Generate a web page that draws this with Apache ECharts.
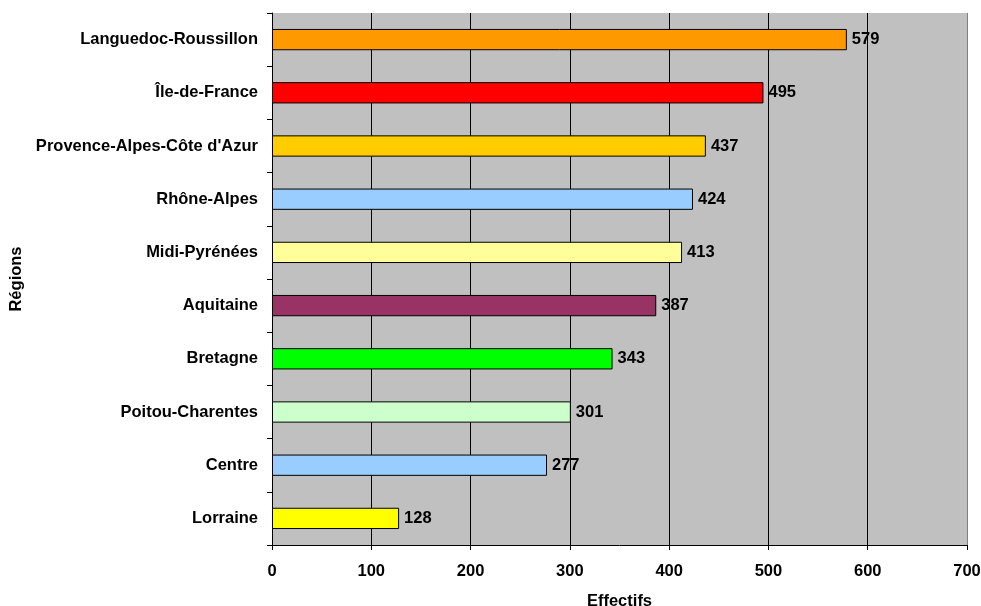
<!DOCTYPE html>
<html>
<head>
<meta charset="utf-8">
<script src="https://cdn.jsdelivr.net/npm/echarts@6/dist/echarts.min.js"></script>
<style>html,body{margin:0;padding:0;background:#fff;}#c{width:981px;height:606px;}</style>
</head>
<body>
<div id="c"></div>
<script>
var categories = ["Languedoc-Roussillon","Île-de-France","Provence-Alpes-Côte d'Azur","Rhône-Alpes","Midi-Pyrénées","Aquitaine","Bretagne","Poitou-Charentes","Centre","Lorraine"];
var values = [579,495,437,424,413,387,343,301,277,128];
var barColors = ["#FF9900","#FF0000","#FFCC00","#99CCFF","#FFFF99","#993366","#00FF00","#CCFFCC","#99CCFF","#FFFF00"];
var xTicks = [0,100,200,300,400,500,600,700];

var chart = echarts.init(document.getElementById('c'));
var font = 'Liberation Sans, Arial, sans-serif';
var fs = 16.5;
chart.setOption({
  animation: false,
  grid: {left: 272, right: 14, top: 13, bottom: 61, show: true, backgroundColor: '#C0C0C0', borderWidth: 0,
    containLabel: false, outerBoundsMode: 'none'},
  xAxis: {
    type: 'value', min: 0, max: 700, interval: 100,
    name: 'Effectifs', nameLocation: 'middle', nameGap: 48,
    nameTextStyle: {fontFamily: font, fontWeight: 'bold', fontSize: fs, color: '#000'},
    axisLine: {show: true, lineStyle: {color: '#000', width: 1}},
    axisTick: {show: true, length: 5, lineStyle: {color: '#000'}},
    axisLabel: {fontFamily: font, fontWeight: 'bold', fontSize: fs, color: '#000', margin: 18,
      formatter: function(v){ return xTicks.indexOf(v) >= 0 ? String(v) : ''; }},
    splitLine: {show: true, lineStyle: {color: ['#000','#000','#000','#000','#000','#000','#000','#808080'], width: 1}}
  },
  yAxis: {
    type: 'category', data: categories, inverse: true,
    name: 'Régions', nameLocation: 'middle', nameGap: 244, nameRotate: 90,
    nameTextStyle: {fontFamily: font, fontWeight: 'bold', fontSize: fs, color: '#000'},
    axisLine: {show: true, lineStyle: {color: '#000', width: 1}},
    axisTick: {show: true, length: 5, alignWithLabel: false, lineStyle: {color: '#000'}},
    axisLabel: {fontFamily: font, fontWeight: 'bold', fontSize: fs, color: '#000', margin: 14},
    splitLine: {show: false}
  },
  series: [{
    type: 'bar',
    data: values.map(function(v, i){ return {value: v, itemStyle: {color: barColors[i]}}; }),
    barWidth: '40%',
    itemStyle: {borderColor: '#000', borderWidth: 1},
    label: {show: true, position: 'right', distance: 5, fontFamily: font, fontWeight: 'bold', fontSize: fs, color: '#000'}
  }]
});
</script>
</body>
</html>
